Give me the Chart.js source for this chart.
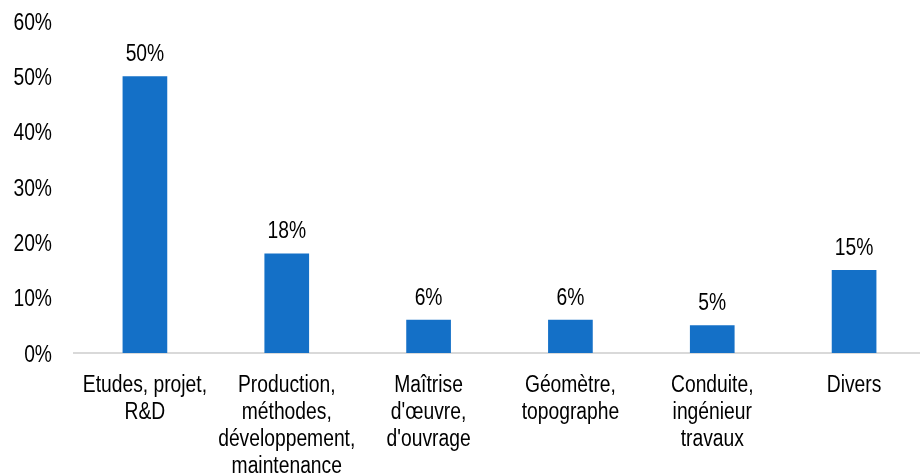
<!DOCTYPE html>
<html>
<head>
<meta charset="utf-8">
<script src="https://cdn.jsdelivr.net/npm/chart.js@4"></script>
<style>
  html, body { margin: 0; padding: 0; background: #fff; overflow: hidden; }
  /* plot runs a few px past the right edge in the reference */
  #wrap { width: 925px; height: 475px; }
</style>
</head>
<body>
<div id="wrap"><canvas id="chart"></canvas></div>
<script>
var categories = [
  ['Etudes, projet,', 'R&D'],
  ['Production,', 'méthodes,', 'développement,', 'maintenance'],
  ['Maîtrise', "d'œuvre,", "d'ouvrage"],
  ['Géomètre,', 'topographe'],
  ['Conduite,', 'ingénieur', 'travaux'],
  ['Divers']
];
var values = [50, 18, 6, 6, 5, 15];
var yTicks = [0, 10, 20, 30, 40, 50, 60];

// reference uses a narrow Arial; fake it with a horizontally squeezed Liberation Sans
var FONT = '23.5px "Liberation Sans", Arial, sans-serif';
var SQUEEZE = 0.82;

function narrowText(ctx, txt, x, y, align) {
  ctx.save();
  ctx.translate(x, y);
  ctx.scale(SQUEEZE, 1);
  ctx.textAlign = align;
  ctx.fillText(txt, 0, 0);
  ctx.restore();
}

var textPlugin = {
  id: 'textPlugin',
  afterDraw: function(chart) {
    var ctx = chart.ctx;
    var xs = chart.scales.x, ys = chart.scales.y;
    ctx.save();
    ctx.font = FONT;
    ctx.fillStyle = '#000';
    ctx.textBaseline = 'alphabetic';
    // y tick labels
    yTicks.forEach(function(v) {
      narrowText(ctx, v + '%', 52, ys.getPixelForValue(v) + 8.5, 'right');
    });
    // category labels
    categories.forEach(function(lines, i) {
      var cx = xs.getPixelForValue(i);
      lines.forEach(function(line, k) {
        narrowText(ctx, line, cx, 391.5 + k * 27, 'center');
      });
    });
    // value labels above bars
    chart.getDatasetMeta(0).data.forEach(function(bar, i) {
      narrowText(ctx, values[i] + '%', bar.x, bar.y - 15, 'center');
    });
    ctx.restore();
  }
};

var ctx = document.getElementById('chart').getContext('2d');
var myChart = new Chart(ctx, {
  type: 'bar',
  data: {
    labels: categories,
    datasets: [{
      data: values,
      backgroundColor: '#1470C7',
      categoryPercentage: 1,
      barPercentage: 0.315
    }]
  },
  options: {
    responsive: true,
    maintainAspectRatio: false,
    animation: false,
    layout: { padding: { top: 21, left: 0, right: 0, bottom: 0 } },
    plugins: {
      legend: { display: false },
      tooltip: { enabled: false }
    },
    scales: {
      x: {
        grid: { display: false },
        border: { display: true, color: '#d9d9d9', width: 2 },
        ticks: { display: false },
        afterFit: function(scale) { scale.height = 122; }
      },
      y: {
        min: 0,
        max: 60,
        grid: { display: false },
        border: { display: false },
        ticks: { display: false, stepSize: 10 },
        afterFit: function(scale) { scale.width = 74; }
      }
    }
  },
  plugins: [textPlugin]
});
</script>
</body>
</html>
